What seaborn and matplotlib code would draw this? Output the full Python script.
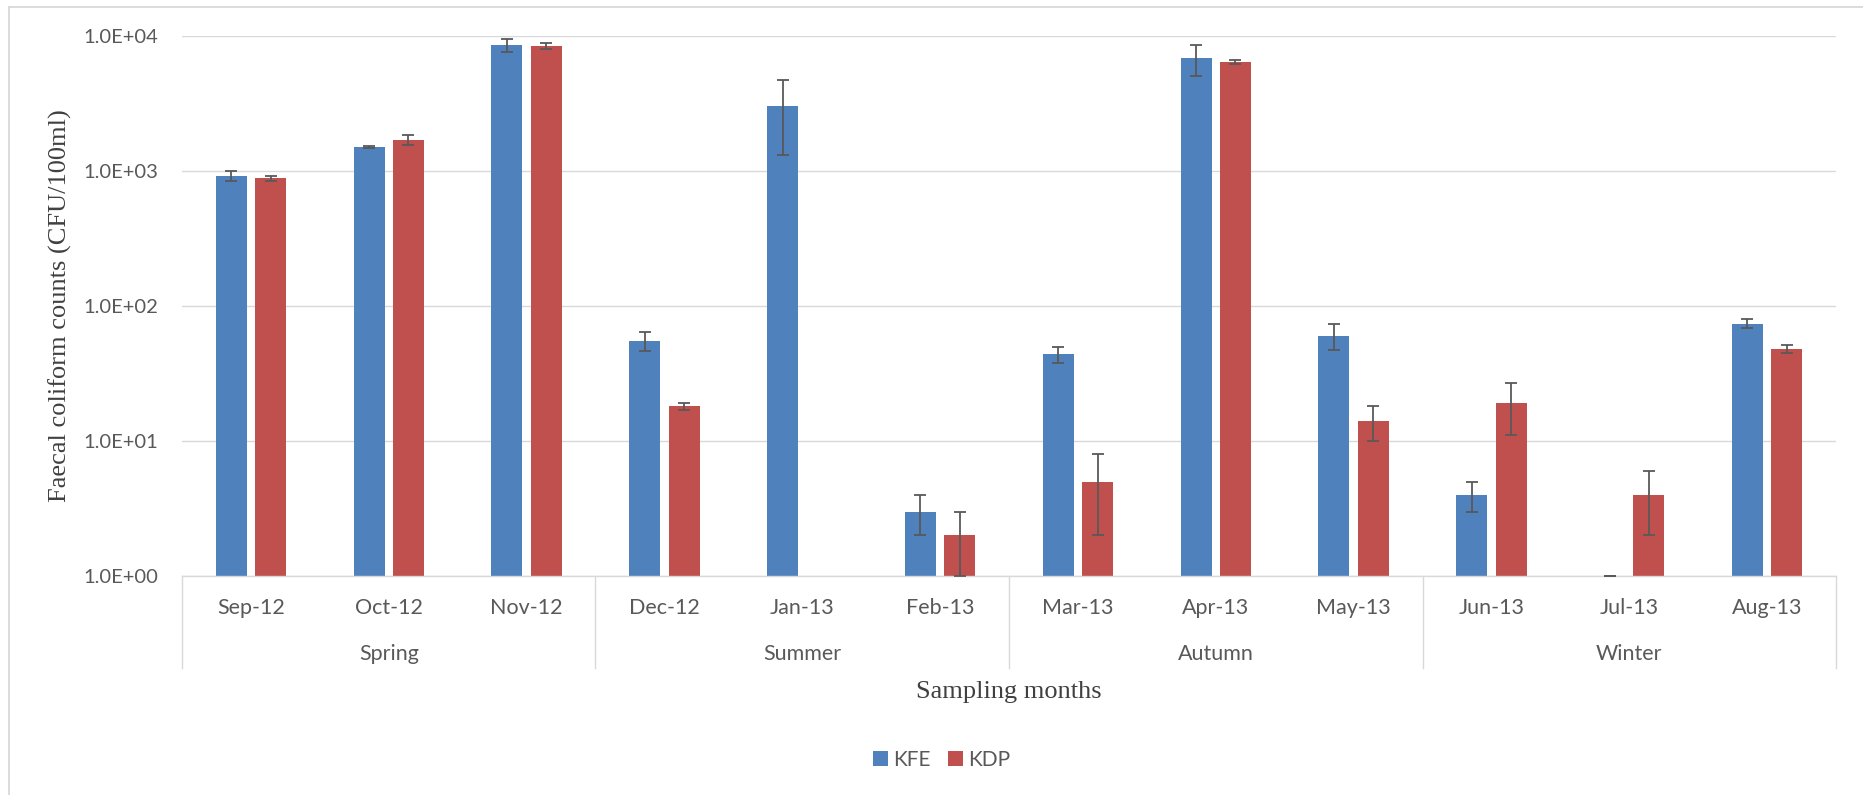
import numpy as np
import pandas as pd
import matplotlib
matplotlib.use("Agg")
import matplotlib.pyplot as plt
from matplotlib.lines import Line2D
from matplotlib.ticker import FixedLocator, FuncFormatter, NullLocator
import seaborn as sns

# Monthly faecal coliform counts (CFU/100ml) at the two sites
months = ['Sep-12', 'Oct-12', 'Nov-12', 'Dec-12', 'Jan-13', 'Feb-13',
          'Mar-13', 'Apr-13', 'May-13', 'Jun-13', 'Jul-13', 'Aug-13']
seasons = ['Spring'] * 3 + ['Summer'] * 3 + ['Autumn'] * 3 + ['Winter'] * 3
series = ['KFE', 'KDP']
kfe = [915, 1500, 8500, 55, 3000, 3, 44, 6800, 60, 4, 1, 74]
kfe_err = [75, 25, 950, 9, 1700, 1, 6, 1800, 13, 1, 0, 6]
kdp = [880, 1700, 8400, 18, 0, 2, 5, 6400, 14, 19, 4, 48]
kdp_err = [35, 135, 450, 1.2, 0, 1, 3, 250, 4, 8, 2, 3]
y_ticks = [1, 10, 100, 1000, 10000]

colors = {'KFE': '#4F81BD', 'KDP': '#C0504D'}
grey_text = '#595959'
grid_col = '#D9D9D9'

plt.rcParams['font.family'] = ['Lato', 'DejaVu Sans']

df = pd.DataFrame({
    'month': months * 2,
    'series': ['KFE'] * len(months) + ['KDP'] * len(months),
    'value': kfe + kdp,
})

W, H = 1863, 795
fig = plt.figure(figsize=(W / 100, H / 100), dpi=100)
ax = fig.add_axes([182 / W, 1 - 576 / H, (1836 - 182) / W, (576 - 35.7) / H])

sns.barplot(data=df, x='month', y='value', hue='series', order=months,
            hue_order=series, palette=colors, saturation=1, width=0.57,
            gap=0.21, errorbar=None, linewidth=0, ax=ax)
ax.set_yscale('log')
ax.set_ylim(1, 1e4)
ax.set_xlim(-0.5, len(months) - 0.5)

# error bars placed on the drawn bars
for cont, vals, errs in zip(ax.containers, [kfe, kdp], [kfe_err, kdp_err]):
    xs, ys, es = [], [], []
    for bar, v, e in zip(cont.patches, vals, errs):
        if v > 0:
            xs.append(bar.get_x() + bar.get_width() / 2)
            ys.append(v)
            es.append(e)
    ax.errorbar(xs, ys, yerr=es, fmt='none', ecolor=grey_text,
                elinewidth=1.3, capsize=4.3, capthick=1.3, zorder=5)

# y axis
ax.yaxis.set_major_locator(FixedLocator(y_ticks))
ax.yaxis.set_minor_locator(NullLocator())
ax.yaxis.set_major_formatter(FuncFormatter(lambda v, p: f"{v:.1E}"))
ax.grid(axis='y', color=grid_col, linewidth=1.0)
ax.set_axisbelow(True)
ax.tick_params(axis='y', length=0, pad=17, labelsize=14.5, labelcolor=grey_text)
ax.tick_params(axis='x', length=0, pad=23, labelsize=15.5, labelcolor=grey_text)
for lab in ax.get_xticklabels():
    lab.set_verticalalignment('center')

for side in ['left', 'right', 'top']:
    ax.spines[side].set_visible(False)
ax.spines['bottom'].set_color(grid_col)
ax.spines['bottom'].set_linewidth(1.0)

# season group labels and separators under the month labels
xt = ax.get_xaxis_transform()
order = []
for s in seasons:
    if s not in order:
        order.append(s)
bounds = [-0.5]
for s in order:
    idx = [i for i, m in enumerate(seasons) if m == s]
    ax.text(np.mean(idx), -0.1444, s, transform=xt, ha='center', va='center',
            fontsize=15.5, color=grey_text)
    bounds.append(max(idx) + 0.5)
for b in bounds:
    ax.plot([b, b], [0, -0.170], transform=xt, color=grid_col, lw=1.0,
            clip_on=False)

ax.set_ylabel('Faecal coliform counts (CFU/100ml)', family='Liberation Serif',
              fontsize=19, color='#404040', va='center')
ax.yaxis.set_label_coords(-0.0738, 0.5)
ax.set_xlabel('Sampling months', family='Liberation Serif', fontsize=19,
              color='#404040', va='center')
ax.xaxis.set_label_coords(0.5, -0.2141)

sns.move_legend(ax, 'center', bbox_to_anchor=(941.6 / W, 1 - 760 / H),
                bbox_transform=fig.transFigure, ncol=2, frameon=False,
                title=None, fontsize=15, handlelength=0.7, handleheight=0.7,
                handletextpad=0.25, columnspacing=0.85)
for t in ax.get_legend().get_texts():
    t.set_color(grey_text)

# chart area border
fig.add_artist(Line2D([9 / W, 9 / W], [0, 1 - 6.7 / H], color=grid_col, lw=1.3))
fig.add_artist(Line2D([9 / W, 1], [1 - 6.7 / H, 1 - 6.7 / H], color=grid_col, lw=1.3))

fig.savefig('out.png', dpi=100, facecolor='white')
